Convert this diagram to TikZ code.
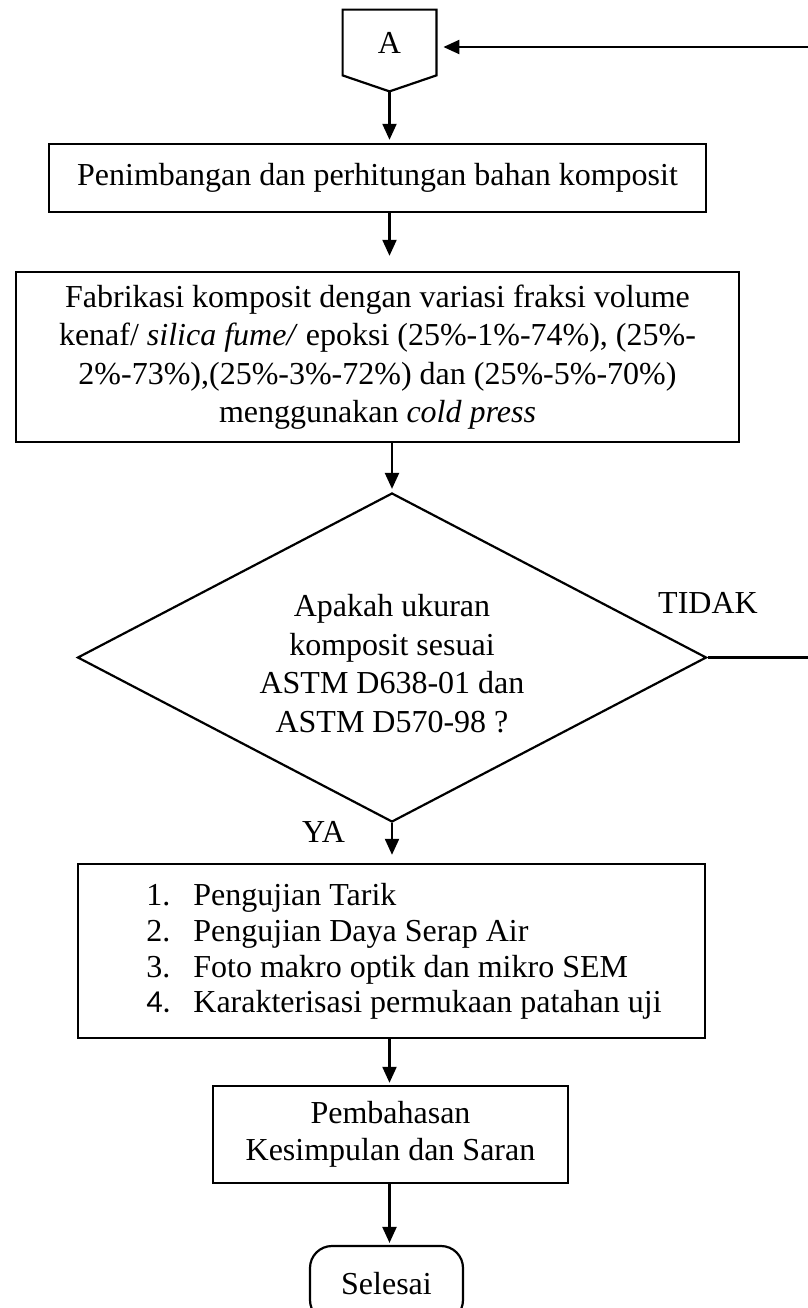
\documentclass[tikz,border=0pt]{standalone}
\usepackage{fontspec}
\setmainfont{Liberation Serif}
\newfontfamily\calibfont{Carlito}
\usetikzlibrary{shapes.geometric,arrows.meta,calc}
\begin{document}
\begin{tikzpicture}[x=0.5pt,y=-0.5pt,
  every node/.style={font=\fontsize{16}{19.25}\selectfont},
  box/.style={draw,line width=1.2pt,inner sep=0pt,align=center},
  dec/.style={draw,diamond,line width=1.1pt,inner sep=0pt},
  term/.style={draw,line width=1.1pt,rounded corners=11pt,inner sep=0pt},
  arr/.style={line width=1.1pt,-{Triangle[length=8pt,width=7pt]}},
  conn/.style={line width=1.1pt},
  lbl/.style={inner sep=0pt}]
\useasboundingbox (0,0) rectangle (808,1308);
\clip (0,0) rectangle (808,1308);
% off-page connector A
\node[inner sep=0pt,minimum width=46.5pt,minimum height=32.5pt] (A) at (389.5,42.5) {A};
\draw[conn] (A.north west) -- (A.north east) -- (A.south east) -- ($(A.south)+(0,16)$) -- (A.south west) -- cycle;
\coordinate (Apt) at ($(A.south)+(0,16)$);
\coordinate (ax) at (389.5,0);
\coordinate (back) at (808,47);
\coordinate (noend) at (808,658);
% process boxes
\node[box,minimum width=328.5pt,minimum height=34pt] (b1) at (377.5,178) {Penimbangan dan perhitungan bahan komposit};
\node[box,minimum width=361.5pt,minimum height=85pt] (b2) at (377.5,357) {Fabrikasi komposit dengan variasi fraksi volume\\kenaf/ \textit{silica fume/} epoksi (25\%-1\%-74\%), (25\%-\\2\%-73\%),(25\%-3\%-72\%) dan (25\%-5\%-70\%)\\menggunakan \textit{cold press}};
\node[dec,minimum width=314.5pt,minimum height=164.5pt] (d) at (392,657.5) {};
\node[lbl,align=center] (dt) at (392,663.5) {Apakah ukuran\\komposit sesuai\\ASTM D638-01 dan\\ASTM D570-98 ?};
\node[box,minimum width=313.5pt,minimum height=87pt] (b3) at (391.5,951) {};
\node[lbl,align=left,anchor=west,font=\fontsize{16}{17.8}\selectfont] (b3t) at (146,951.5) {\makebox[23.5pt][l]{1.}Pengujian Tarik\\\makebox[23.5pt][l]{2.}Pengujian Daya Serap Air\\\makebox[23.5pt][l]{3.}Foto makro optik dan mikro SEM\\\makebox[23.5pt][l]{\calibfont 4.}Karakterisasi permukaan patahan uji};
\node[box,minimum width=177.5pt,minimum height=48.5pt,font=\fontsize{16}{18.5}\selectfont] (b4) at (390.5,1134.5) {Pembahasan\\Kesimpulan dan Saran};
\node[term,minimum width=76.5pt,minimum height=38pt] (end) at (386.5,1284) {Selesai};
% labels
\node[lbl] (tidak) at (708,603) {TIDAK};
\node[lbl] (ya) at (323.5,832) {YA};
% connectors
\draw[arr,shorten >=3.5pt] (back) -- (back -| A.east);
\draw[arr,shorten >=1.5pt] (Apt) -- (Apt |- b1.north);
\draw[arr,shorten >=7.5pt] (b1.south -| ax) -- (b2.north -| ax);
\draw[arr,shorten >=1.5pt] (b2.south -| d.north) -- (d.north);
\draw[arr,shorten >=4pt] (d.south) -- (d.south |- b3.north);
\draw[arr,shorten >=1pt] (b3.south -| ax) -- (b4.north -| ax);
\draw[arr,shorten >=1pt] (b4.south -| ax) -- (end.north -| ax);
\draw[conn] (d.east) -- (d.east -| noend);
\end{tikzpicture}
\end{document}
